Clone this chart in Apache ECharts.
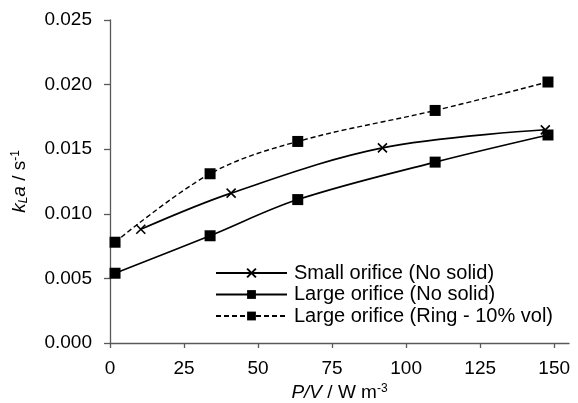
<!DOCTYPE html>
<html><head><meta charset="utf-8">
<script src="https://cdn.jsdelivr.net/npm/echarts@6/dist/echarts.min.js"></script>
<style>html,body{margin:0;padding:0;background:#fff}#c{width:578px;height:403px}</style>
</head><body><div id="c"></div>
<script>
const seriesNames = ['Small orifice (No solid)', 'Large orifice (No solid)', 'Large orifice (Ring - 10% vol)'];
const smallX = [10.4, 40.9, 92, 147];
const smallY = [0.0088, 0.0116, 0.0151, 0.0165];
const largeX = [1.7, 33.8, 63.4, 109.8, 147.9];
const largeY = [0.0054, 0.0083, 0.0111, 0.0140, 0.0161];
const ringX = [1.7, 33.8, 63.4, 109.8, 147.9];
const ringY = [0.0078, 0.0131, 0.0156, 0.0180, 0.0202];
const xTicks = [0, 25, 50, 75, 100, 125, 150];
const yTicks = [0, 0.005, 0.010, 0.015, 0.020, 0.025];

const zip = (xs, ys) => xs.map((x, i) => [x, ys[i]]);
const FONT = 'Liberation Sans';
const axisColor = '#595959';
const chart = echarts.init(document.getElementById('c'), null, {renderer: 'canvas'});
chart.setOption({
  animation: false,
  textStyle: {fontFamily: FONT},
  grid: {left: 110, right: 9, top: 20, bottom: 60, containLabel: false, outerBoundsMode: 'none'},
  xAxis: {
    type: 'value', min: 0, max: 155, interval: 25,
    axisLine: {lineStyle: {color: axisColor, width: 1.3}},
    axisTick: {show: true, length: 5, inside: false, customValues: xTicks, lineStyle: {color: axisColor, width: 1.3}},
    axisLabel: {customValues: xTicks, color: '#000', fontSize: 19, margin: 16, fontFamily: FONT},
    splitLine: {show: false},
    name: '{i|P/V} / W m{sup|-3}',
    nameLocation: 'middle', nameGap: 38,
    nameTextStyle: {
      color: '#000', fontSize: 19, fontFamily: FONT,
      rich: {
        i: {fontStyle: 'italic', fontSize: 19, fontFamily: FONT, color: '#000'},
        sup: {fontSize: 12, fontFamily: FONT, color: '#000', verticalAlign: 'top', padding: [0,0,8,0]}
      }
    }
  },
  yAxis: {
    type: 'value', min: 0, max: 0.025, interval: 0.005,
    axisLine: {show: true, lineStyle: {color: axisColor, width: 1.3}},
    axisTick: {show: true, length: 6, lineStyle: {color: axisColor, width: 1.3}},
    axisLabel: {color: '#000', fontSize: 19, margin: 18, fontFamily: FONT, formatter: v => v.toFixed(3)},
    splitLine: {show: false},
    name: '{i|k}{sub|L}{i|a} / s{sup|-1}',
    nameLocation: 'middle', nameGap: 80, nameRotate: 90,
    nameTextStyle: {
      color: '#000', fontSize: 19, fontFamily: FONT,
      rich: {
        i: {fontStyle: 'italic', fontSize: 19, fontFamily: FONT, color: '#000'},
        sub: {fontStyle: 'italic', fontSize: 12, fontFamily: FONT, color: '#000', verticalAlign: 'bottom', padding: [8,0,0,0]},
        sup: {fontSize: 12, fontFamily: FONT, color: '#000', verticalAlign: 'top', padding: [0,0,8,0]}
      }
    }
  },
  legend: {
    orient: 'vertical', left: 210, top: 258,
    itemWidth: 71, itemHeight: 11, itemGap: 1.5,
    textStyle: {color: '#000', fontSize: 20, fontFamily: FONT, lineHeight: 20, padding: [0,0,0,2]},
    data: seriesNames
  },
  series: [
    {
      name: seriesNames[0], type: 'line', data: zip(smallX, smallY), smooth: 0.35,
      symbol: 'path://M0,0L10,10M10,0L0,10', symbolSize: 9,
      itemStyle: {color: '#000', borderColor: '#000', borderWidth: 1.6},
      lineStyle: {color: '#000', width: 1.6}
    },
    {
      name: seriesNames[1], type: 'line', data: zip(largeX, largeY), smooth: 0.35,
      symbol: 'rect', symbolSize: 11,
      itemStyle: {color: '#000'},
      lineStyle: {color: '#000', width: 1.6}
    },
    {
      name: seriesNames[2], type: 'line', data: zip(ringX, ringY), smooth: 0.35,
      symbol: 'rect', symbolSize: 11,
      itemStyle: {color: '#000'},
      lineStyle: {color: '#000', width: 1.4, type: [5, 3]}
    }
  ]
});
</script></body></html>
